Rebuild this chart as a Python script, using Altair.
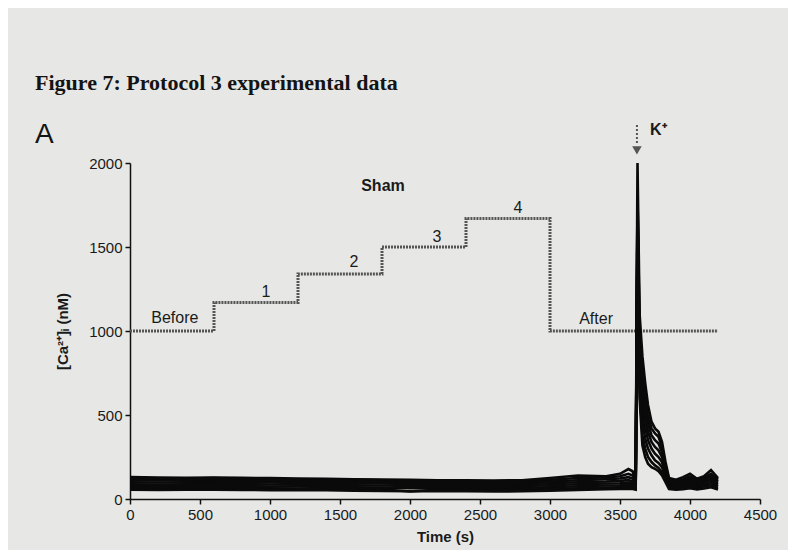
import altair as alt
import pandas as pd

# ---------------- data ----------------
times = [0, 200, 400, 600, 800, 1000, 1200, 1400, 1600, 1800, 2000, 2200, 2400, 2600,
         2800, 3000, 3200, 3400, 3500, 3560, 3590, 3612, 3625, 3640, 3660, 3680, 3700,
         3725, 3750, 3775, 3800, 3825, 3850, 3900, 3950, 4000, 4050, 4100, 4150, 4200]

trace1 = [130, 128, 126, 128, 126, 124, 122, 120, 118, 116, 114, 112, 112, 110, 112, 125, 140, 135, 150, 178,
          165, 110, 2000, 1100, 850, 690, 560, 460, 420, 400, 340, 220, 125, 115, 130, 150, 120, 135, 172, 125]
trace2 = [122, 120, 122, 124, 120, 118, 118, 116, 114, 112, 110, 108, 106, 106, 108, 115, 125, 128, 135, 150,
          140, 100, 1800, 1000, 780, 620, 500, 420, 390, 370, 310, 200, 115, 105, 118, 135, 112, 125, 150, 115]
trace3 = [112, 110, 112, 114, 110, 108, 108, 106, 104, 102, 100, 98, 96, 96, 98, 104, 112, 118, 122, 130,
          122, 95, 1780, 920, 700, 560, 450, 380, 350, 330, 280, 180, 105, 95, 108, 122, 102, 115, 135, 105]
trace4 = [100, 98, 100, 102, 100, 98, 96, 95, 94, 92, 90, 88, 86, 86, 88, 94, 100, 104, 108, 112,
          106, 88, 1700, 850, 620, 500, 400, 340, 310, 290, 250, 160, 95, 88, 98, 110, 94, 105, 120, 96]
trace5 = [88, 86, 88, 90, 88, 86, 85, 84, 82, 80, 78, 77, 76, 75, 78, 82, 88, 92, 94, 98,
          94, 80, 1650, 780, 540, 430, 350, 300, 270, 250, 220, 145, 85, 80, 88, 98, 85, 95, 108, 86]
trace6 = [76, 75, 76, 78, 76, 74, 74, 72, 70, 68, 64, 66, 64, 64, 66, 70, 76, 80, 82, 85,
          82, 72, 1550, 700, 460, 360, 300, 260, 230, 215, 190, 130, 76, 72, 78, 86, 76, 84, 95, 76]
trace7 = [65, 64, 66, 66, 64, 63, 62, 62, 60, 58, 45, 56, 55, 54, 56, 60, 64, 68, 70, 72,
          70, 64, 1500, 650, 380, 300, 250, 220, 200, 185, 160, 115, 68, 64, 68, 75, 66, 74, 82, 66]
trace8 = [55, 54, 56, 56, 54, 53, 52, 52, 50, 48, 46, 47, 46, 45, 46, 50, 54, 58, 60, 62,
          60, 56, 1450, 600, 320, 250, 210, 190, 180, 165, 140, 100, 60, 56, 58, 64, 57, 62, 70, 57]

traces = [trace1, trace2, trace3, trace4, trace5, trace6, trace7, trace8]

# protocol step overlay
step_times = [0, 600, 1200, 1800, 2400, 3000, 4200]
step_values = [1000, 1170, 1340, 1500, 1670, 1000, 1000]

# annotations
label_text = ["Before", "1", "2", "3", "4", "After"]
label_t = [320, 971, 1600, 2193, 2771, 3329]
label_v = [1077, 1232, 1411, 1560, 1732, 1071]

bold_text = ["Sham", "K\u207a"]
bold_t = [1807, 3774]
bold_v = [1863, 2196]

arrow_t = [3621]
arrow_top = [2226]
arrow_bottom = [2110]
arrow_head = [2075]

x_ticks = [0, 500, 1000, 1500, 2000, 2500, 3000, 3500, 4000, 4500]
y_ticks = [0, 500, 1000, 1500, 2000]

# ---------------- tables ----------------
rows = []
for i, tr in enumerate(traces):
    for t, v in zip(times, tr):
        rows.append({"trace": f"cell{i+1}", "t": t, "v": v})
trace_df = pd.DataFrame(rows)
step_df = pd.DataFrame({"t": step_times, "v": step_values})
label_df = pd.DataFrame({"t": label_t, "v": label_v, "label": label_text})
bold_df = pd.DataFrame({"t": bold_t, "v": bold_v, "label": bold_text})
arrow_df = pd.DataFrame({"t": arrow_t, "top": arrow_top, "bottom": arrow_bottom, "head": arrow_head})

xscale = alt.Scale(domain=[0, 4500], nice=False)
yscale = alt.Scale(domain=[0, 2000], nice=False)

X = alt.X("t:Q", scale=xscale,
          axis=alt.Axis(values=x_ticks, title="Time (s)", labelFlush=False, format="d"))
Y = alt.Y("v:Q", scale=yscale,
          axis=alt.Axis(values=y_ticks, title="[Ca\u00b2\u207a]\u1d62 (nM)", format="d"))

lines = alt.Chart(trace_df).mark_line(color="#0a0a0a", strokeWidth=2.6).encode(
    x=X, y=Y, detail="trace:N")

steps = alt.Chart(step_df).mark_line(
    color="#555555", strokeWidth=3, interpolate="step-after", strokeDash=[2, 1]
).encode(x="t:Q", y="v:Q")

labels = alt.Chart(label_df).mark_text(
    font="Liberation Sans", fontSize=16, color="#1a1a1a"
).encode(x="t:Q", y="v:Q", text="label:N")

bold_labels = alt.Chart(bold_df).mark_text(
    font="Liberation Sans", fontSize=16, fontWeight="bold", color="#1a1a1a"
).encode(x="t:Q", y="v:Q", text="label:N")

arrow_shaft = alt.Chart(arrow_df).mark_rule(
    color="#555555", strokeWidth=2, strokeDash=[2, 2]
).encode(x="t:Q", y="top:Q", y2="bottom:Q")

arrow_tip = alt.Chart(arrow_df).mark_point(
    shape="triangle-down", filled=True, size=90, color="#555555", opacity=1
).encode(x="t:Q", y="head:Q")

chart = alt.layer(steps, lines, labels, bold_labels, arrow_shaft, arrow_tip).properties(
    width=630,
    height=336,
    autosize=alt.AutoSizeParams(type="none"),
    padding={"left": 122, "top": 155, "right": 28, "bottom": 51},
    background="#e7e8e5",
    title=alt.TitleParams(
        text="Figure 7: Protocol 3 experimental data",
        subtitle="\u00a0\u00a0A",
        anchor="start",
        frame="group",
        dx=-95,
        dy=36,
        offset=8,
        font="Liberation Serif",
        fontSize=22,
        fontWeight="bold",
        color="#141414",
        subtitleFont="Liberation Sans",
        subtitleFontSize=28,
        subtitleColor="#141414",
        subtitlePadding=26,
    ),
).configure_view(
    stroke=None
).configure_axis(
    grid=False,
    domainColor="#111111",
    domainWidth=1.5,
    tickColor="#111111",
    tickWidth=1.5,
    tickSize=5,
    labelFont="Liberation Sans",
    labelFontSize=15,
    labelColor="#1a1a1a",
    labelPadding=3,
    titleFont="Liberation Sans",
    titleFontSize=15,
    titleFontWeight="bold",
    titleColor="#1a1a1a",
).configure_axisY(
    titlePadding=18,
).configure_axisX(
    titlePadding=7,
)

chart.save("out.html", embed_options={"renderer": "svg", "actions": False})
